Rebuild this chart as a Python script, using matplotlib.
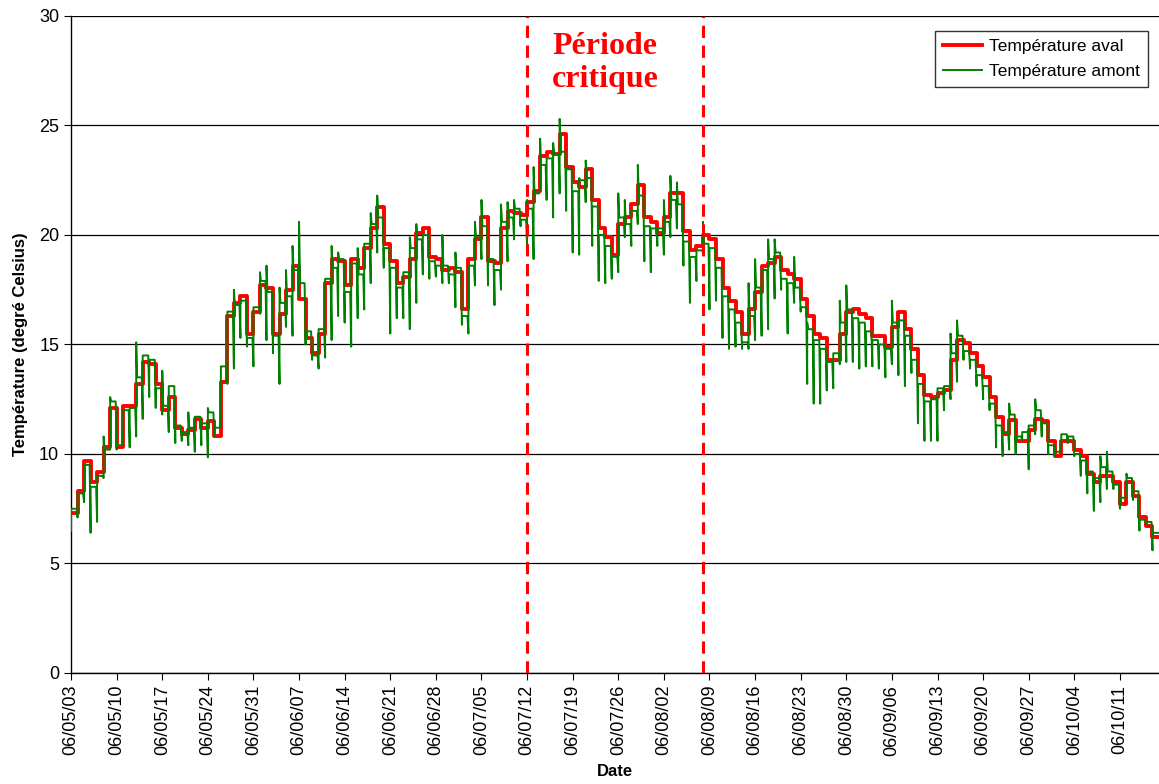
#!/usr/bin/env python3
"""
Températures amont / aval, mai - octobre 2006.
"""
import matplotlib
matplotlib.use("Agg")
import matplotlib.pyplot as plt
import numpy as np

# one value per day, day 0 = 06/05/03
aval = [
    7.3, 8.3, 9.7, 8.7, 9.2, 10.3, 12.1, 10.3, 12.2, 12.2,
    13.2, 14.2, 14.1, 13.2, 12.0, 12.6, 11.2, 10.9, 11.1, 11.6,
    11.2, 11.5, 10.8, 13.3, 16.3, 16.9, 17.2, 15.5, 16.5, 17.7,
    17.6, 15.5, 16.4, 17.5, 18.6, 17.1, 15.3, 14.6, 15.5, 17.8,
    18.9, 18.8, 17.7, 18.9, 18.5, 19.4, 20.3, 21.3, 19.6, 18.8,
    17.8, 18.1, 18.9, 20.1, 20.3, 19.0, 18.9, 18.4, 18.5, 18.3,
    16.6, 18.9, 19.8, 20.8, 18.8, 18.7, 20.3, 21.1, 21.0, 20.9,
    21.5, 22.0, 23.6, 23.8, 23.7, 24.6, 23.1, 22.4, 22.2, 23.0,
    21.6, 20.3, 19.9, 19.1, 20.5, 20.8, 21.4, 22.3, 20.8, 20.6,
    20.1, 20.8, 21.9, 21.9, 20.2, 19.3, 19.5, 20.0, 19.8, 18.9,
    17.6, 17.0, 16.5, 15.5, 16.6, 17.4, 18.6, 18.7, 19.0, 18.4,
    18.2, 18.0, 17.1, 16.3, 15.5, 15.3, 14.3, 14.3, 15.5, 16.5,
    16.6, 16.4, 16.2, 15.4, 15.4, 14.9, 15.8, 16.5, 15.7, 14.8,
    13.6, 12.7, 12.6, 12.8, 12.9, 14.3, 15.2, 15.05, 14.6, 14.0,
    13.5, 12.6, 11.7, 10.9, 11.55, 10.6, 10.6, 11.1, 11.6, 11.5,
    10.6, 9.9, 10.6, 10.6, 10.2, 9.9, 9.1, 8.7, 9.0, 9.0,
    8.7, 7.7, 8.7, 8.1, 7.1, 6.7, 6.2,
]

amont = [
    7.5, 8.2, 9.5, 8.5, 9.0, 10.2, 12.4, 10.4, 12.0, 12.1,
    13.5, 14.5, 14.3, 13.0, 12.2, 13.1, 11.3, 11.0, 11.2, 11.7,
    11.4, 11.9, 11.2, 14.0, 16.5, 16.8, 17.0, 15.3, 16.7, 17.9,
    17.4, 15.4, 16.9, 17.2, 18.4, 17.8, 15.6, 14.5, 15.7, 18.0,
    18.5, 18.9, 17.4, 18.7, 18.2, 19.6, 20.5, 20.8, 19.4, 18.5,
    17.6, 18.3, 19.4, 19.8, 20.0, 18.8, 18.6, 18.6, 18.2, 18.5,
    16.3, 18.6, 19.9, 20.4, 18.9, 18.4, 20.6, 20.8, 21.2, 20.7,
    21.2, 21.9, 23.2, 23.5, 23.7, 23.8, 23.0, 22.0, 22.5, 22.6,
    21.3, 20.0, 19.5, 19.0, 20.8, 20.5, 21.1, 21.8, 20.4, 20.3,
    20.3, 20.6, 21.6, 21.4, 19.7, 19.0, 19.3, 19.6, 19.4, 18.5,
    17.2, 16.6, 16.0, 15.1, 16.3, 17.6, 18.4, 18.9, 19.2, 18.0,
    17.8, 17.6, 16.7, 15.7, 15.2, 14.8, 14.2, 14.6, 16.0, 16.6,
    16.2, 16.0, 15.6, 15.2, 15.0, 14.8, 16.0, 16.1, 15.4, 14.3,
    13.2, 12.4, 12.5, 13.0, 13.1, 14.6, 15.4, 14.7, 14.3, 13.6,
    13.1, 12.3, 11.3, 11.0, 11.8, 10.8, 11.0, 11.3, 12.0, 11.4,
    10.4, 10.1, 10.9, 10.8, 10.0, 9.7, 9.2, 8.9, 9.4, 9.2,
    8.6, 8.0, 8.9, 8.3, 7.0, 6.9, 6.4,
]

# daily minimum spike of the upstream probe
amont_min = [
    6.5, 7.1, 7.8, 6.4, 6.9, 8.9, 10.2, 10.2, 11.1, 10.3,
    10.8, 11.6, 12.6, 12.1, 11.8, 11.0, 10.5, 10.6, 10.4, 10.1,
    10.4, 9.85, 10.8, 11.5, 13.2, 13.9, 15.3, 14.9, 14.0, 16.4,
    15.2, 14.6, 13.2, 15.8, 15.4, 17.2, 15.0, 14.3, 13.9, 14.4,
    15.2, 16.3, 16.0, 14.9, 16.2, 16.6, 17.8, 19.2, 18.5, 15.5,
    16.2, 16.2, 15.7, 16.9, 18.2, 18.0, 18.1, 17.8, 17.8, 16.7,
    15.9, 15.5, 17.7, 18.9, 17.7, 16.8, 17.5, 18.8, 19.8, 20.4,
    19.5, 18.9, 22.2, 21.6, 20.8, 21.9, 21.1, 19.2, 19.1, 21.5,
    19.5, 17.9, 17.8, 18.0, 18.3, 19.9, 19.5, 20.5, 18.8, 18.3,
    19.5, 19.1, 19.9, 20.3, 18.6, 16.9, 17.9, 19.2, 16.6, 17.0,
    15.3, 14.8, 14.9, 14.8, 14.8, 15.2, 15.4, 15.7, 17.1, 17.5,
    15.5, 16.9, 16.5, 13.2, 12.3, 12.3, 12.9, 13.0, 14.1, 14.2,
    14.2, 13.9, 14.0, 14.0, 13.9, 13.5, 14.1, 13.6, 13.1, 13.7,
    11.4, 10.6, 10.6, 10.6, 12.0, 12.5, 13.3, 14.3, 13.9, 13.1,
    12.5, 12.0, 10.3, 9.9, 10.2, 10.0, 10.6, 9.3, 10.9, 10.8,
    10.0, 9.9, 10.4, 10.5, 9.9, 9.0, 8.2, 7.4, 7.8, 8.4,
    8.4, 7.5, 8.6, 7.9, 6.5, 6.8, 5.6,
]

# days with an upward spike (day, value)
amont_max = [
    (5, 10.8), (6, 12.6), (10, 15.1), (14, 13.8), (18, 11.9), (21, 12.1),
    (25, 17.5), (29, 18.3), (30, 18.6), (32, 17.6), (33, 18.4), (34, 19.5),
    (35, 20.6), (40, 19.5), (41, 19.2), (44, 19.4), (46, 21.0), (47, 21.8),
    (52, 19.9), (53, 20.5), (57, 20.0), (59, 19.2), (62, 20.6), (63, 21.6),
    (66, 21.4), (67, 21.5), (68, 21.6), (70, 21.6), (71, 23.1), (72, 24.4),
    (74, 24.2), (75, 25.3), (78, 22.6), (79, 23.4), (84, 21.9), (85, 21.6),
    (87, 23.2), (91, 21.6), (92, 22.7), (93, 22.4), (97, 20.6), (104, 17.8),
    (105, 18.9), (107, 19.8), (108, 19.8), (111, 19.0), (113, 16.0),
    (118, 17.0), (119, 17.7), (126, 17.0), (135, 15.5), (136, 16.1),
    (144, 12.3), (148, 12.5), (158, 9.9), (159, 10.1), (162, 9.1),
]

tick_labels = [
    "06/05/03", "06/05/10", "06/05/17", "06/05/24", "06/05/31", "06/06/07",
    "06/06/14", "06/06/21", "06/06/28", "06/07/05", "06/07/12", "06/07/19",
    "06/07/26", "06/08/02", "06/08/09", "06/08/16", "06/08/23", "06/08/30",
    "06/09/06", "06/09/13", "06/09/20", "06/09/27", "06/10/04", "06/10/11",
]
periode_critique = [70, 97]  # 06/07/12 -> 06/08/08

plt.rcParams["font.family"] = ["Liberation Sans", "DejaVu Sans"]

fig = plt.figure(figsize=(11.59, 7.84), dpi=100)
ax = fig.add_axes([0.0613, 0.1416, 0.9387, 0.838])

n = len(aval)
days = np.arange(n)

# downstream: plain daily steps
ax.plot(np.append(days, n), aval + [aval[-1]], drawstyle="steps-post",
        color="#ff0000", lw=2.8, label="Température aval", zorder=3)

# upstream: daily spike then plateau
tops = dict(amont_max)
gx, gy = [], []
for i in range(n):
    hi = max(amont[i], tops.get(i, amont[i]))
    gx += [i, i, i + 0.15, i + 0.85]
    gy += [amont_min[i], hi, amont[i], amont[i]]
ax.plot(gx, gy, color="#008000", lw=1.4, label="Température amont", zorder=4)

for d in periode_critique:
    ax.axvline(d, color="#ff0000", lw=2.2, ls=(0, (4, 2.5)), zorder=5)

ax.text(np.mean(periode_critique) - 1.5, 27.85, "Période\ncritique",
        family="Liberation Serif", weight="bold", color="#ff0000",
        fontsize=23, ha="center", va="center", linespacing=1.2)

ax.set_xlim(0, 167)
ax.set_ylim(0, 30)
ax.set_yticks(range(0, 31, 5))
ax.set_xticks(range(0, 7 * len(tick_labels), 7))
ax.set_xticklabels(tick_labels, rotation=90)
ax.tick_params(labelsize=13, direction="out", length=5, color="black")
ax.yaxis.grid(True, color="black", lw=0.9)
ax.set_axisbelow(True)
for s in ["top", "right"]:
    ax.spines[s].set_visible(False)
ax.spines["left"].set_linewidth(1.0)
ax.spines["bottom"].set_linewidth(1.0)

ax.set_xlabel("Date", fontsize=12, weight="bold", labelpad=6)
ax.set_ylabel("Température (degré Celsius)", fontsize=12, weight="bold", labelpad=8)

leg = ax.legend(loc="upper right", bbox_to_anchor=(0.99, 0.977), borderaxespad=0,
                fontsize=12.5, frameon=True, fancybox=False, handlelength=2.3,
                borderpad=0.45, labelspacing=0.55, handletextpad=0.4)
leg.get_frame().set_edgecolor("black")
leg.get_frame().set_linewidth(1.0)

fig.savefig("out.png", dpi=100)
